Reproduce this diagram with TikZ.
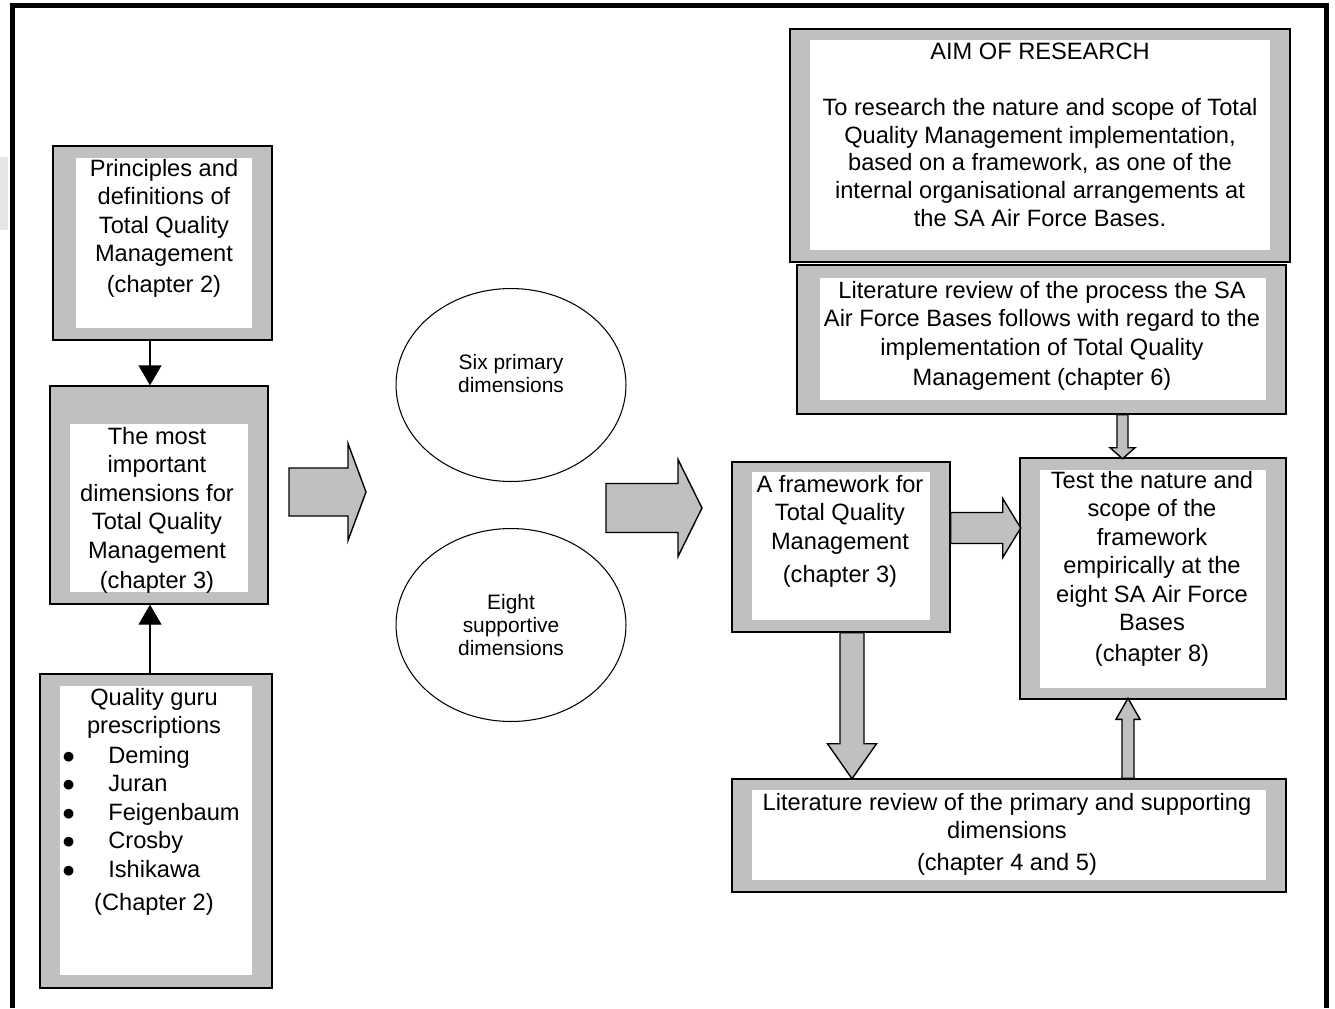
\documentclass[tikz,border=0pt]{standalone}
\usepackage{fontspec}
\setmainfont{Liberation Sans}
\usepackage{xcolor}
\usetikzlibrary{arrows.meta,shapes.geometric,fit}
\definecolor{boxgray}{HTML}{C0C0C0}
\newcommand{\gurudot}{\makebox[0.92cm][l]{$\bullet$}}

\begin{document}
\begin{tikzpicture}[
  x=0.02cm, y=-0.02cm,
  shell/.style={draw, line width=0.8pt, fill=boxgray, inner sep=0pt},
  pane/.style={fill=white, inner sep=0pt},
  txt/.style={anchor=north, align=center, inner sep=0pt, font=\fontsize{13.45}{16.2}\selectfont},
  oval/.style={draw, ellipse, line width=0.6pt, minimum width=4.6cm, minimum height=3.86cm, align=center, inner sep=0pt, font=\fontsize{11.9}{12.9}\selectfont},
  thinarrow/.style={-{Triangle[length=0.4cm, width=0.46cm]}, line width=0.8pt},
  blockarrow/.style={draw, line width=0.8pt, fill=boxgray, line join=miter},
  pics/fatarrow/.style n args={4}{code={
    \draw[blockarrow] (0,-#2) -- (#1,-#2) -- (#1,-#3) -- (#1+#4,0) -- (#1,#3) -- (#1,#2) -- (0,#2) -- cycle;
  }}
]
\useasboundingbox (0,0) rectangle (1335,1008);
\fill[gray!20] (0,157) rectangle (8,230);
\draw[line width=3.1pt, line join=miter] (12.5,1008) -- (12.5,5.5) -- (1326.5,5.5) -- (1326.5,1008);

\foreach \n/\xa/\ya/\xb/\yb/\xc/\yc/\xd/\yd in {
  princ/53/146/272/340/76/158/252/328,
  dims/50/386/268/604/70/424/248/592,
  guru/40/674/272/988/60/686/252/975,
  aim/790/29/1290/262/810/40/1270/250,
  litproc/797/265/1286/414/820/278/1266/400,
  frmwk/732/462/950/632/752/472/930/620,
  test/1020/458/1286/699/1040/470/1266/688,
  litdim/732/779/1286/892/752/790/1266/880} {
  \node[shell, fit={(\xa,\ya) (\xb,\yb)}] (\n) {};
  \node[pane, fit={(\xc,\yc) (\xd,\yd)}] (\n-in) {};
}

\node[txt] (princ-t) at (164,159) {Principles and\\definitions of\\Total Quality\\Management\\[1pt](chapter 2)};
\node[txt] (dims-t) at (157,427) {The most\\important\\dimensions for\\Total Quality\\Management\\[1pt](chapter 3)};
\node[txt] (guru-t) at (154,688) {Quality guru\\prescriptions};
\node[txt, anchor=north west, align=left] (guru-list) at (62,746) {\gurudot Deming\\\gurudot Juran\\\gurudot Feigenbaum\\\gurudot Crosby\\\gurudot Ishikawa};
\node[txt] (guru-ch) at (154,893) {(Chapter 2)};

\node[oval] (six) at (511,385) {Six primary\\dimensions\\\mbox{}};
\node[oval] (eight) at (511,625) {Eight\\supportive\\dimensions};

\node[txt, font=\fontsize{13.45}{15.8}\selectfont] (aim-t) at (1040,43) {AIM OF RESEARCH\\\mbox{}\\To research the nature and scope of Total\\Quality Management implementation,\\based on a framework, as one of the\\internal organisational arrangements at\\the SA Air Force Bases.};
\node[txt] (litproc-t) at (1042,281) {Literature review of the process the SA\\Air Force Bases follows with regard to the\\implementation of Total Quality\\[1pt]Management (chapter 6)};
\node[txt] (frmwk-t) at (840,475) {A framework for\\Total Quality\\Management\\[2.5pt](chapter 3)};
\node[txt] (test-t) at (1152,471) {Test the nature and\\scope of the\\framework\\empirically at the\\eight SA Air Force\\Bases\\[1pt](chapter 8)};
\node[txt] (litdim-t) at (1007,793) {Literature review of the primary and supporting\\dimensions\\[2pt](chapter 4 and 5)};

\draw[thinarrow] (princ.south -| 150,0) -- (dims.north -| 150,0);
\draw[thinarrow] (guru.north -| 150,0) -- (dims.south -| 150,0);

\pic at (289,492) {fatarrow={59}{24}{48.5}{18}};
\pic at (606,508) {fatarrow={72}{24.5}{48.5}{24}};
\pic at (frmwk.east |- 0,528) {fatarrow={52}{15.5}{29.5}{18}};
\pic[rotate=-90] at (frmwk.south -| 852,0) {fatarrow={111}{12}{24.5}{35}};
\pic[rotate=90] at (litdim.north -| 1128,0) {fatarrow={59}{6}{12}{21}};
\pic[rotate=-90] at (litproc.south -| 1122.5,0) {fatarrow={33}{5.5}{12.5}{11}};
\end{tikzpicture}
\end{document}
